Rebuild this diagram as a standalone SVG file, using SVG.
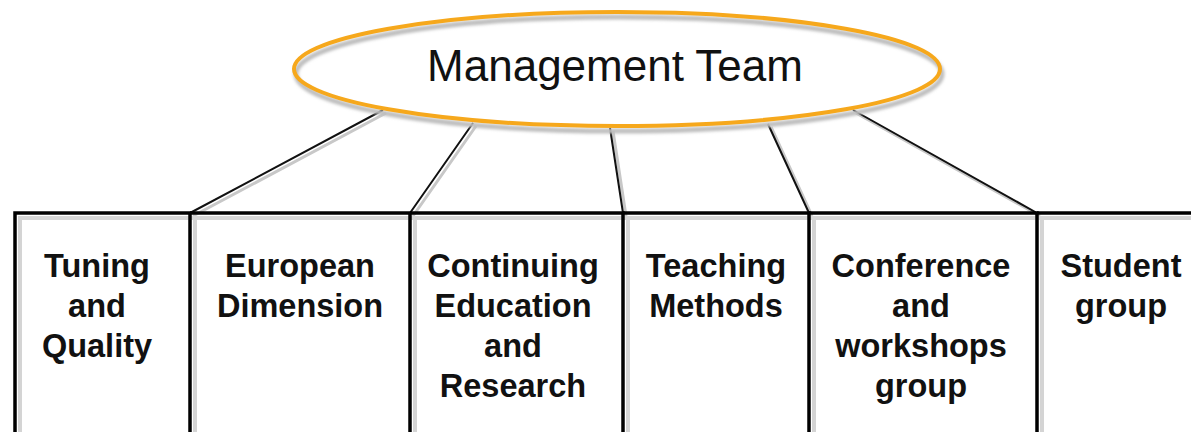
<svg xmlns="http://www.w3.org/2000/svg" width="1191" height="432" viewBox="0 0 1191 432">
<defs>
<filter id="blur" x="-10%" y="-10%" width="120%" height="120%"><feGaussianBlur stdDeviation="1.5"/></filter>
</defs>
<style>
.lbl{font-family:"Liberation Sans",Arial,sans-serif;font-weight:bold;font-size:32.5px;fill:#111;text-anchor:middle}
.title{font-family:"Liberation Sans",Arial,sans-serif;font-size:44px;fill:#111;text-anchor:middle}
.edge{stroke:#111;stroke-width:2;fill:none}
.edgesh{stroke:#c8c8c8;stroke-width:3;fill:none}
.col{fill:none;stroke:#000;stroke-width:3.5}
.colsh{fill:none;stroke:#d4d4d4;stroke-width:4}
</style>
<rect width="1191" height="432" fill="#fff"/>
<g id="connectors">
<path class="edgesh" d="M386 113L193 216M476 126L413 216M613 131L626 216M771 127L812 216M856 113L1040 216"/>
<path class="edge" d="M383 110L190 213M473 123L410 213M610 128L623 213M768 124L809 213M853 110L1037 213"/>
</g>
<g id="management-team">
<ellipse cx="619" cy="74" rx="323" ry="57" fill="none" stroke="#bdbdbd" stroke-width="5" filter="url(#blur)"/>
<ellipse cx="617" cy="69" rx="323" ry="57" fill="none" stroke="#F6A81C" stroke-width="4"/>
<text class="title" x="615" y="81">Management Team</text>
</g>
<g id="tuning">
<path class="colsh" d="M20 440V218H195"/>
<path class="col" d="M15 440V213H190V440"/>
<text class="lbl" x="97" y="277">Tuning</text>
<text class="lbl" x="97" y="317">and</text>
<text class="lbl" x="97" y="357">Quality</text>
</g>
<g id="european">
<path class="colsh" d="M195 440V218H415"/>
<path class="col" d="M190 213H410V440"/>
<text class="lbl" x="300" y="277">European</text>
<text class="lbl" x="300" y="317">Dimension</text>
</g>
<g id="continuing">
<path class="colsh" d="M415 440V218H628"/>
<path class="col" d="M410 213H623V440"/>
<text class="lbl" x="513" y="277">Continuing</text>
<text class="lbl" x="513" y="317">Education</text>
<text class="lbl" x="513" y="357">and</text>
<text class="lbl" x="513" y="397">Research</text>
</g>
<g id="teaching">
<path class="colsh" d="M628 440V218H814"/>
<path class="col" d="M623 213H809V440"/>
<text class="lbl" x="716" y="277">Teaching</text>
<text class="lbl" x="716" y="317">Methods</text>
</g>
<g id="conference">
<path class="colsh" d="M814 440V218H1042"/>
<path class="col" d="M809 213H1037V440"/>
<text class="lbl" x="921" y="277">Conference</text>
<text class="lbl" x="921" y="317">and</text>
<text class="lbl" x="921" y="357">workshops</text>
<text class="lbl" x="921" y="397">group</text>
</g>
<g id="student">
<path class="colsh" d="M1042 440V218H1200"/>
<path class="col" d="M1037 213H1200"/>
<text class="lbl" x="1121" y="277">Student</text>
<text class="lbl" x="1121" y="317">group</text>
</g>
</svg>
